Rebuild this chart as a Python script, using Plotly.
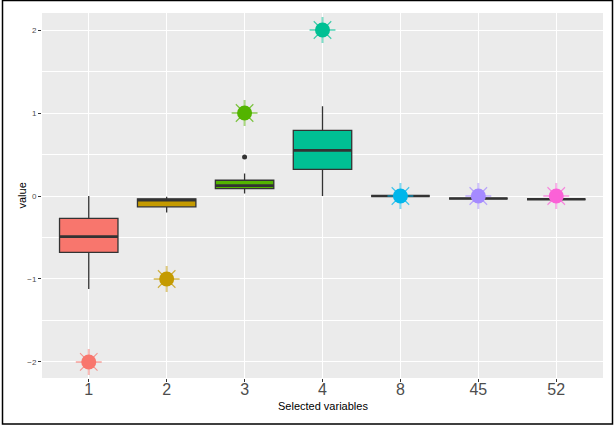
import plotly.graph_objects as go

categories = ["1", "2", "3", "4", "8", "45", "52"]
q1 = [-0.68, -0.13, 0.09, 0.32, 0.0, -0.03, -0.04]
medians = [-0.49, -0.05, 0.125, 0.55, 0.0, -0.03, -0.04]
q3 = [-0.27, -0.035, 0.19, 0.79, 0.0, -0.03, -0.04]
lower_whisker = [-1.12, -0.20, 0.03, 0.0, 0.0, -0.03, -0.04]
upper_whisker = [0.0, -0.01, 0.27, 1.08, 0.0, -0.03, -0.04]
outlier_cat = ["3"]
outlier_val = [0.47]
true_values = [-2, -1, 1, 2, 0, 0, 0]
colors = ["#F8766D", "#C49A00", "#53B400", "#00C094", "#00B6EB", "#A58AFF", "#FB61D7"]

W, H = 616, 426
ML, MR, MT, MB = 42, 13, 13, 48
BOX_W = 0.75


def rgba(hexc, a):
    h = hexc.lstrip("#")
    r, g, b = int(h[0:2], 16), int(h[2:4], 16), int(h[4:6], 16)
    return f"rgba({r},{g},{b},{a})"


pos = list(range(len(categories)))
fig = go.Figure()

for i, c in enumerate(categories):
    fig.add_trace(go.Box(
        x=[pos[i]], q1=[q1[i]], median=[medians[i]], q3=[q3[i]],
        lowerfence=[lower_whisker[i]], upperfence=[upper_whisker[i]],
        width=BOX_W, whiskerwidth=0, fillcolor=colors[i],
        line=dict(color="#333333", width=1.3), boxpoints=False,
        showlegend=False, hoverinfo="skip"))
    fig.add_trace(go.Scatter(
        x=[pos[i] - BOX_W / 2, pos[i] + BOX_W / 2], y=[medians[i], medians[i]],
        mode="lines", line=dict(color="#333333", width=2.6),
        showlegend=False, hoverinfo="skip"))

fig.add_trace(go.Scatter(
    x=[categories.index(c) for c in outlier_cat], y=outlier_val, mode="markers",
    marker=dict(color="#333333", size=5), showlegend=False, hoverinfo="skip"))

# sun markers
fig.add_trace(go.Scatter(
    x=pos, y=true_values, mode="markers",
    marker=dict(symbol="cross-thin-open", size=18.5,
                color=[rgba(c, 0.5) for c in colors], line=dict(width=2)),
    showlegend=False, hoverinfo="skip"))
fig.add_trace(go.Scatter(
    x=pos, y=true_values, mode="markers",
    marker=dict(symbol="x-thin-open", size=17.5,
                color=[rgba(c, 0.75) for c in colors], line=dict(width=1.1)),
    showlegend=False, hoverinfo="skip"))
fig.add_trace(go.Scatter(
    x=pos, y=true_values, mode="markers",
    marker=dict(symbol="circle", size=15, color=colors, line=dict(width=0)),
    showlegend=False, hoverinfo="skip"))

pw = W - ML - MR
ph = H - MT - MB

fig.update_layout(
    width=W, height=H,
    margin=dict(l=ML, r=MR, t=MT, b=MB, pad=0),
    paper_bgcolor="white", plot_bgcolor="#EBEBEB",
    boxmode="overlay",
    font=dict(family="Liberation Sans, Arial, sans-serif", color="#4D4D4D"),
    xaxis=dict(tickmode="array", tickvals=pos, ticktext=categories,
               range=[-0.6, len(categories) - 0.4],
               showgrid=True, gridcolor="white", gridwidth=1.3, zeroline=False,
               ticks="outside", ticklen=3, tickcolor="#333333", tickwidth=1,
               ticklabelstandoff=-6,
               tickfont=dict(size=16, color="#4D4D4D"), showline=False),
    yaxis=dict(tickmode="array", tickvals=[-2, -1, 0, 1, 2],
               range=[-2.193, 2.205],
               showgrid=True, gridcolor="white", gridwidth=1.3, zeroline=False,
               minor=dict(dtick=0.5, tick0=0, showgrid=True, gridcolor="white", gridwidth=0.6),
               ticks="outside", ticklen=3, tickcolor="#333333", tickwidth=1,
               tickfont=dict(size=8, color="#4D4D4D"), showline=False),
    annotations=[
        dict(text="value", textangle=-90, x=(21 - ML) / pw, y=0.5,
             xref="paper", yref="paper", showarrow=False,
             xanchor="center", yanchor="middle",
             font=dict(size=11, color="black")),
        dict(text="Selected variables", x=0.5, y=-(406 - (H - MB)) / ph,
             xref="paper", yref="paper", showarrow=False,
             xanchor="center", yanchor="middle",
             font=dict(size=11, color="black")),
    ],
    shapes=[dict(type="rect", xref="paper", yref="paper",
                 x0=(2.5 - ML) / pw, x1=(W - 3.5 - ML) / pw,
                 y0=-(H - 2 - (H - MB)) / ph, y1=(H - MB - 0.5) / ph,
                 line=dict(color="black", width=1.5), layer="above")],
)

fig.write_html(
    "out.html",
    config={"displayModeBar": False},
    post_script="document.body.style.margin='0';document.body.style.padding='0';"
                "document.body.style.overflow='hidden';",
)
